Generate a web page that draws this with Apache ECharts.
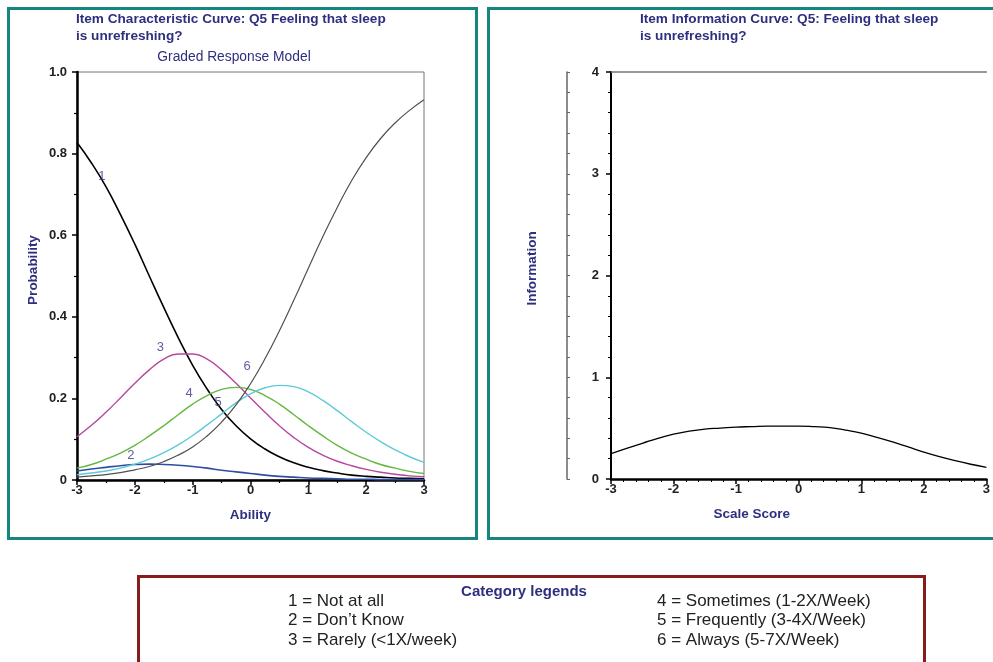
<!DOCTYPE html>
<html>
<head>
<meta charset="utf-8">
<script src="https://cdn.jsdelivr.net/npm/echarts@6/dist/echarts.min.js"></script>
<style>
html,body{margin:0;padding:0;background:#fff;}
#chart{width:993px;height:662px;}
</style>
</head>
<body>
<div id="chart"></div>
<script>
// Ability / scale score grid
var theta = [-3,-2.75,-2.5,-2.25,-2,-1.75,-1.5,-1.25,-1,-0.75,-0.5,-0.25,0,0.25,0.5,0.75,1,1.25,1.5,1.75,2,2.25,2.5,2.75,3];
// Category response probabilities
var cat1 = [0.827,0.777,0.719,0.651,0.578,0.500,0.423,0.349,0.281,0.223,0.173,0.133,0.101,0.076,0.057,0.042,0.031,0.023,0.017,0.012,0.009,0.007,0.005,0.004,0.003];
var cat2 = [0.022,0.027,0.031,0.035,0.038,0.039,0.038,0.036,0.033,0.029,0.024,0.020,0.016,0.012,0.009,0.007,0.005,0.004,0.003,0.002,0.002,0.001,0.001,0.001,0.001];
var cat3 = [0.106,0.134,0.166,0.201,0.237,0.270,0.296,0.309,0.309,0.296,0.270,0.237,0.201,0.166,0.133,0.104,0.080,0.061,0.046,0.035,0.026,0.019,0.014,0.010,0.008];
var cat4 = [0.029,0.038,0.051,0.066,0.085,0.108,0.133,0.160,0.186,0.207,0.222,0.227,0.222,0.207,0.186,0.160,0.133,0.108,0.085,0.066,0.051,0.038,0.029,0.021,0.016];
var cat5 = [0.013,0.017,0.022,0.029,0.039,0.051,0.067,0.086,0.109,0.135,0.162,0.189,0.211,0.226,0.232,0.229,0.216,0.195,0.170,0.143,0.117,0.094,0.074,0.057,0.043];
var cat6 = [0.007,0.010,0.013,0.018,0.025,0.033,0.045,0.061,0.081,0.108,0.142,0.184,0.236,0.297,0.366,0.441,0.519,0.596,0.668,0.734,0.790,0.837,0.875,0.906,0.932];
// Item information
var info = [0.25,0.30,0.35,0.40,0.44,0.47,0.49,0.50,0.51,0.515,0.52,0.52,0.52,0.515,0.505,0.48,0.45,0.41,0.365,0.315,0.265,0.22,0.18,0.145,0.115];
// Curve number labels: text, ability, probability
var curveLabelText = ['1','2','3','4','5','6'];
var curveLabelX = [-2.57,-2.07,-1.56,-1.06,-0.56,-0.06];
var curveLabelY = [0.743,0.061,0.324,0.213,0.191,0.279];
// Category legend texts
var legendTitle = 'Category legends';
var legendLeft = ['1 = Not at all','2 = Don\u2019t Know','3 = Rarely (<1X/week)'];
var legendRight = ['4 = Sometimes (1-2X/Week)','5 = Frequently (3-4X/Week)','6 = Always (5-7X/Week)'];

function pairs(ys){ return theta.map(function(t,i){ return [t, ys[i]]; }); }

var NAVY = '#2e2f7f';
var FONT = '"Liberation Sans", Arial, sans-serif';
var catColors = ['#000000','#2f4ea3','#b5489d','#63b83f','#5ccad8','#505050'];
var catWidths = [1.6,1.6,1.4,1.4,1.4,1.2];
var catData = [cat1,cat2,cat3,cat4,cat5,cat6];

var series = catData.map(function(d,i){
  return {type:'line', xAxisIndex:0, yAxisIndex:0, data:pairs(d), smooth:true, showSymbol:false,
    lineStyle:{color:catColors[i], width:catWidths[i]}, z:3, silent:true};
});
series.push({type:'scatter', xAxisIndex:0, yAxisIndex:0, symbolSize:0, silent:true, z:5,
  data: curveLabelText.map(function(t,i){ return {name:t, value:[curveLabelX[i], curveLabelY[i]]}; }),
  label:{show:true, position:'inside', formatter:'{b}', color:'#34348a', fontSize:13, fontFamily:FONT}
});
series.push({type:'line', xAxisIndex:1, yAxisIndex:1, data:pairs(info), smooth:true, showSymbol:false,
  lineStyle:{color:'#000', width:1.3}, silent:true});

var tickLabel = {fontFamily:FONT, fontWeight:'bold', fontSize:13, color:'#222'};
var axisName = {fontFamily:FONT, fontWeight:'bold', fontSize:13.5, color:NAVY};

var graphics = [
  {type:'rect', shape:{x:8.5,y:8.5,width:468,height:530}, style:{fill:'none', stroke:'#168580', lineWidth:3}, silent:true},
  {type:'rect', shape:{x:488.5,y:8.5,width:520,height:530}, style:{fill:'none', stroke:'#168580', lineWidth:3}, silent:true},
  {type:'rect', shape:{x:138.5,y:576.5,width:786,height:100}, style:{fill:'none', stroke:'#861c1c', lineWidth:3}, silent:true},
  {type:'text', x:524, y:592, style:{text:legendTitle, font:'bold 15px '+FONT, fill:NAVY, align:'center', verticalAlign:'middle'}, silent:true}
];
legendLeft.forEach(function(t,i){
  graphics.push({type:'text', x:288, y:601+i*19.5, style:{text:t, font:'17px '+FONT, fill:'#222', align:'left', verticalAlign:'middle'}, silent:true});
});
legendRight.forEach(function(t,i){
  graphics.push({type:'text', x:657, y:601+i*19.5, style:{text:t, font:'17px '+FONT, fill:'#222', align:'left', verticalAlign:'middle'}, silent:true});
});

var option = {
  animation:false,
  backgroundColor:'#fff',
  textStyle:{fontFamily:FONT},
  title:[
    {text:'Item Characteristic Curve: Q5 Feeling that sleep\nis unrefreshing?', left:76, top:11, padding:0,
     textStyle:{fontFamily:FONT, fontSize:13.6, fontWeight:'bold', color:NAVY, lineHeight:17}},
    {text:'Graded Response Model', left:234, top:50, padding:0, textAlign:'center',
     textStyle:{fontFamily:FONT, fontSize:13.8, fontWeight:'normal', color:NAVY}},
    {text:'Item Information Curve: Q5: Feeling that sleep\nis unrefreshing?', left:640, top:11, padding:0,
     textStyle:{fontFamily:FONT, fontSize:13.6, fontWeight:'bold', color:NAVY, lineHeight:17}}
  ],
  grid:[
    {left:77, top:72, width:347, height:408, show:true, borderColor:'#777', borderWidth:1, backgroundColor:'transparent'},
    {left:611, top:72, width:381, height:407, show:false}
  ],
  xAxis:[
    {type:'value', gridIndex:0, min:-3, max:3, interval:1,
     name:'Ability', nameLocation:'middle', nameGap:28, nameTextStyle:axisName,
     axisLine:{show:true, onZero:false, lineStyle:{color:'#000', width:2.5}},
     axisTick:{show:true, length:5, lineStyle:{color:'#000', width:1.5}},
     minorTick:{show:true, splitNumber:2, length:3, lineStyle:{color:'#000', width:1.2}},
     splitLine:{show:false}, minorSplitLine:{show:false},
     axisLabel:Object.assign({margin:4}, tickLabel)},
    {type:'value', gridIndex:1, min:-3, max:3, interval:1,
     name:'Scale Score', nameLocation:'middle', nameGap:28,
     nameTextStyle:Object.assign({padding:[0,94,0,0]}, axisName),
     axisLine:{show:true, onZero:false, lineStyle:{color:'#000', width:2.5}},
     axisTick:{show:true, length:5, lineStyle:{color:'#000', width:1.5}},
     minorTick:{show:true, splitNumber:5, length:3, lineStyle:{color:'#000', width:1}},
     splitLine:{show:false}, minorSplitLine:{show:false},
     axisLabel:Object.assign({margin:4}, tickLabel)},
    {type:'value', gridIndex:1, min:-3, max:3, position:'top',
     axisLine:{show:true, onZero:false, lineStyle:{color:'#777', width:1.5}},
     axisTick:{show:false}, axisLabel:{show:false}, splitLine:{show:false}}
  ],
  yAxis:[
    {type:'value', gridIndex:0, min:0, max:1, interval:0.2,
     name:'Probability', nameLocation:'middle', nameGap:37,
     nameTextStyle:Object.assign({padding:[0,0,0,12]}, axisName),
     axisLine:{show:true, onZero:false, lineStyle:{color:'#000', width:2.5}},
     axisTick:{show:true, length:5, lineStyle:{color:'#000', width:1.5}},
     minorTick:{show:true, splitNumber:2, length:3, lineStyle:{color:'#000', width:1.2}},
     splitLine:{show:false}, minorSplitLine:{show:false},
     axisLabel:Object.assign({margin:10, formatter:function(v){ return v===0 ? '0' : v.toFixed(1); }}, tickLabel)},
    {type:'value', gridIndex:1, min:0, max:4, interval:1,
     name:'Information', nameLocation:'middle', nameGap:72,
     nameTextStyle:Object.assign({padding:[0,0,0,14]}, axisName),
     axisLine:{show:true, onZero:false, lineStyle:{color:'#000', width:2}},
     axisTick:{show:true, length:5, lineStyle:{color:'#000', width:1.5}},
     minorTick:{show:true, splitNumber:5, length:3, lineStyle:{color:'#000', width:1}},
     splitLine:{show:false}, minorSplitLine:{show:false},
     axisLabel:Object.assign({margin:12}, tickLabel)},
    {type:'value', gridIndex:1, min:0, max:4, interval:0.2, position:'left', offset:44,
     axisLine:{show:true, onZero:false, lineStyle:{color:'#666', width:1.5}},
     axisTick:{show:true, inside:true, length:3, lineStyle:{color:'#666', width:1}},
     axisLabel:{show:false}, splitLine:{show:false}}
  ],
  series:series,
  graphic:graphics
};

var chart = echarts.init(document.getElementById('chart'), null, {renderer:'canvas'});
chart.setOption(option);
</script>
</body>
</html>
